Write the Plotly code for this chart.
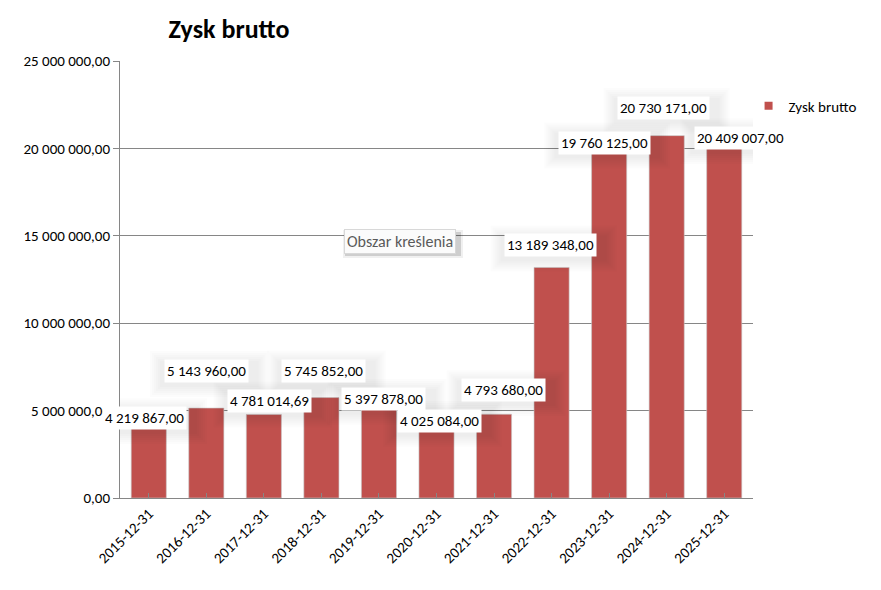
import plotly.graph_objects as go

# --- data ---
dates = [
    "2015-12-31", "2016-12-31", "2017-12-31", "2018-12-31", "2019-12-31",
    "2020-12-31", "2021-12-31", "2022-12-31", "2023-12-31", "2024-12-31",
    "2025-12-31",
]
profit = [
    4219867.00, 5143960.00, 4781014.69, 5745852.00, 5397878.00,
    4025084.00, 4793680.00, 13189348.00, 19760125.00, 20730171.00,
    20409007.00,
]
y_ticks = [0, 5000000, 10000000, 15000000, 20000000, 25000000]
series_name = "Zysk brutto"

# label placement (pixels) as the labels were dragged around in Excel
label_dx = [-4, 0, 6, 2, 5, 3, 9, -1, -5, -3, 16]
label_dy = [6, 37, 13, 27, 5, 7, 24, 22, 10, 28, 3]

FONT = "Calibri, Carlito, Lato, sans-serif"
BAR = "#C0504D"
GRID = "#868686"

# page body has an 8px margin, so the figure is drawn 8px smaller
W, H = 873, 582


def pl_number(v):
    # Polish style: space for thousands, comma for decimals
    return f"{v:,.2f}".replace(",", " ").replace(".", ",")


fig = go.Figure()

fig.add_trace(
    go.Bar(
        x=dates,
        y=profit,
        name=series_name,
        width=0.61,
        marker=dict(color=BAR, line=dict(color="rgba(200,200,200,0.6)", width=1)),
        showlegend=False,
    )
)
# legend entry with the small square Excel uses
fig.add_trace(
    go.Scatter(
        x=[None], y=[None], mode="markers", name=series_name,
        marker=dict(symbol="square", size=8, color=BAR),
    )
)

# data labels: soft shadow (stacked pixel-sized shapes) + white box
for d, v, dx, dy in zip(dates, profit, label_dx, label_dy):
    label = pl_number(v)
    half_w = len(label) * 3.7 + 3
    for grow in range(12, 0, -2):
        fig.add_shape(
            type="rect", xref="x", yref="y",
            xsizemode="pixel", ysizemode="pixel", xanchor=d, yanchor=v,
            x0=dx - half_w - grow + 3, x1=dx + half_w + grow + 3,
            y0=dy - 11 - grow - 3, y1=dy + 11 + grow - 3,
            fillcolor="rgba(0,0,0,0.012)", line=dict(width=0), layer="above",
        )
    fig.add_annotation(
        x=d, y=v, text=label, showarrow=False,
        xshift=dx, yshift=dy, yanchor="middle",
        font=dict(family=FONT, size=15, color="#000000"),
        bgcolor="#FFFFFF", borderpad=2,
    )

# the Excel hover tip "Obszar kreślenia" captured in the screenshot
tip_x = (400 - 120) / 633
tip_y = (498 - 241) / 437
for grow, alpha in [(2, 0.06), (0, 0.14)]:
    fig.add_shape(
        type="rect", xref="paper", yref="paper",
        xsizemode="pixel", ysizemode="pixel", xanchor=tip_x, yanchor=tip_y,
        x0=-55 - grow, x1=61 + grow, y0=-15 - grow, y1=9 + grow,
        fillcolor=f"rgba(0,0,0,{alpha})", line=dict(width=0), layer="above",
    )
fig.add_annotation(
    xref="paper", yref="paper", x=tip_x, y=tip_y,
    text="Obszar kreślenia", showarrow=False,
    font=dict(family=FONT, size=16, color="#595959"),
    bgcolor="#FBFBFB", bordercolor="#D8D8D8", borderwidth=1, borderpad=2,
)

fig.update_layout(
    width=W,
    height=H,
    margin=dict(l=112, r=W - 745, t=53, b=H - 490),
    paper_bgcolor="white",
    plot_bgcolor="white",
    separators=", ",
    font=dict(family=FONT, size=15, color="#000000"),
    title=dict(
        text="<b>Zysk brutto</b>",
        x=221 / W, xanchor="center", xref="container",
        y=1 - 21 / H, yanchor="middle", yref="container",
        font=dict(family=FONT, size=26, color="#000000"),
    ),
    legend=dict(
        x=0.993, y=0.935, xanchor="left", yanchor="top",
        font=dict(family=FONT, size=15),
        itemwidth=30, bgcolor="rgba(0,0,0,0)",
    ),
)

fig.update_xaxes(
    type="category",
    range=[-0.5, len(dates) - 0.5],
    tickangle=-45,
    tickfont=dict(family=FONT, size=15),
    showline=True, linecolor=GRID, linewidth=1,
    ticks="inside", tickcolor=GRID, ticklen=5,
    showgrid=False,
)
fig.update_yaxes(
    range=[0, 25000000],
    tickvals=y_ticks,
    tickformat=",.2f",
    tickfont=dict(family=FONT, size=15),
    showline=True, linecolor=GRID, linewidth=1,
    ticks="outside", tickcolor=GRID, ticklen=6,
    showgrid=True, gridcolor=GRID, gridwidth=1,
    zeroline=False,
)

fig.write_html("out.html")
